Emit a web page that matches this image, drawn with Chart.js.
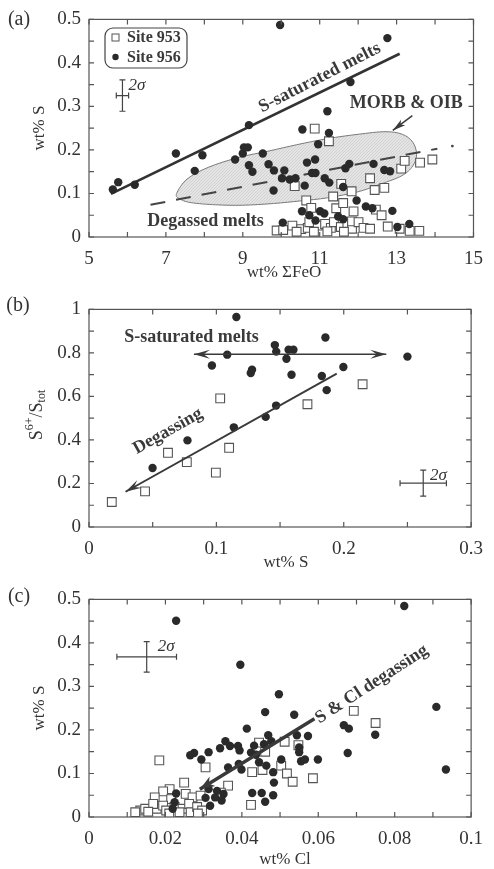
<!DOCTYPE html>
<html>
<head>
<meta charset="utf-8">
<script src="https://cdn.jsdelivr.net/npm/chart.js@4.4.0/dist/chart.umd.min.js"></script>
<style>
    html, body { margin: 0; padding: 0; background: #fff; }
    .panel { position: absolute; left: 0; width: 494px; }
</style>
</head>
<body>
<div class="panel" style="top:0;height:290px"><canvas id="chartA" width="494" height="290"></canvas></div>
<div class="panel" style="top:290px;height:290px"><canvas id="chartB" width="494" height="290"></canvas></div>
<div class="panel" style="top:580px;height:289px"><canvas id="chartC" width="494" height="289"></canvas></div>
<script>
// ---- data ----
// (a) wt% FeO vs wt% S
const feoSite956 = [
    [9.97, 0.487], [12.76, 0.457], [11.80, 0.356], [11.20, 0.289], [9.16, 0.257], [10.55, 0.247],
    [11.24, 0.239], [10.96, 0.213], [9.03, 0.206], [9.13, 0.206], [9.00, 0.192], [7.26, 0.192],
    [7.95, 0.188], [9.52, 0.192], [8.80, 0.178], [10.88, 0.178], [10.67, 0.171], [9.16, 0.165],
    [9.67, 0.167], [11.77, 0.168], [11.67, 0.158], [12.40, 0.168], [12.68, 0.154], [12.83, 0.151],
    [7.75, 0.152], [9.25, 0.150], [9.81, 0.153], [10.08, 0.153], [10.80, 0.147], [10.89, 0.147],
    [10.02, 0.135], [10.22, 0.132], [10.37, 0.135], [11.13, 0.135], [11.25, 0.125], [10.61, 0.118],
    [11.61, 0.115], [9.80, 0.107], [5.62, 0.109], [5.76, 0.126], [6.19, 0.120], [11.96, 0.084],
    [10.54, 0.059], [10.73, 0.050], [11.01, 0.059], [11.12, 0.054], [11.48, 0.047], [11.61, 0.041],
    [12.20, 0.070], [12.37, 0.066], [12.89, 0.060], [10.89, 0.038], [10.04, 0.033], [13.02, 0.023],
    [13.33, 0.030]
];
const feoSite953 = [
    [10.87, 0.249], [11.24, 0.220], [10.35, 0.117], [11.56, 0.122], [11.83, 0.105], [11.35, 0.093],
    [10.65, 0.084], [10.78, 0.067], [11.43, 0.066], [11.61, 0.078], [11.88, 0.059], [12.46, 0.063],
    [12.61, 0.050], [12.31, 0.135], [12.43, 0.108], [12.68, 0.113], [13.12, 0.157], [13.21, 0.175],
    [13.61, 0.171], [13.93, 0.178], [9.88, 0.015], [10.05, 0.016], [10.29, 0.026], [10.52, 0.018],
    [10.69, 0.021], [10.73, 0.034], [10.95, 0.026], [11.14, 0.030], [11.29, 0.021], [11.37, 0.034],
    [11.55, 0.023], [11.72, 0.030], [11.84, 0.019], [11.84, 0.036], [12.01, 0.034], [12.14, 0.021],
    [12.31, 0.019], [12.77, 0.024], [13.08, 0.019], [13.34, 0.014], [13.59, 0.014], [10.85, 0.012],
    [11.20, 0.013], [11.63, 0.012], [10.40, 0.012]
];
// MORB & OIB field outline
const morbOutline = [
    [7.28, 0.100], [7.55, 0.133], [8.10, 0.160], [8.90, 0.183], [9.70, 0.198], [10.40, 0.212],
    [11.20, 0.226], [12.00, 0.236], [12.70, 0.242], [13.15, 0.236], [13.42, 0.218], [13.52, 0.190],
    [13.42, 0.163], [13.12, 0.140], [12.50, 0.119], [12.00, 0.104], [11.20, 0.090], [10.50, 0.083],
    [9.80, 0.077], [9.00, 0.073], [8.30, 0.074], [7.65, 0.079], [7.35, 0.088]
];
const sSaturatedLine = [[5.57, 0.099], [13.08, 0.421]];
const degassedTrend = [[6.60, 0.074], [14.06, 0.203]];

// (b) wt% S vs S6+/Stot
const ratioSite956 = [
    [0.1157, 0.965], [0.1459, 0.836], [0.1470, 0.806], [0.1567, 0.815], [0.1605, 0.815], [0.1550, 0.773],
    [0.1085, 0.792], [0.0965, 0.742], [0.1280, 0.723], [0.1270, 0.708], [0.1590, 0.700], [0.1856, 0.871],
    [0.1828, 0.694], [0.1866, 0.629], [0.1997, 0.735], [0.2500, 0.783], [0.1469, 0.558], [0.1387, 0.506],
    [0.1137, 0.458], [0.0773, 0.398], [0.0499, 0.271]
];
const ratioSite953 = [
    [0.0179, 0.115], [0.0440, 0.164], [0.0620, 0.341], [0.0768, 0.298], [0.0996, 0.250],
    [0.1100, 0.364], [0.1030, 0.591], [0.1715, 0.564], [0.2148, 0.656]
];

// (c) wt% Cl vs wt% S
const clSite956 = [
    [0.0228, 0.451], [0.0825, 0.485], [0.0396, 0.350], [0.0497, 0.282], [0.0909, 0.253], [0.0934, 0.109],
    [0.0461, 0.241], [0.0537, 0.235], [0.0413, 0.203], [0.0667, 0.211], [0.0680, 0.203], [0.0749, 0.189],
    [0.0677, 0.147], [0.0544, 0.188], [0.0573, 0.186], [0.0469, 0.188], [0.0477, 0.174], [0.0458, 0.167],
    [0.0432, 0.164], [0.0390, 0.163], [0.0369, 0.163], [0.0357, 0.174], [0.0343, 0.158], [0.0313, 0.149],
    [0.0275, 0.147], [0.0265, 0.142], [0.0294, 0.132], [0.0394, 0.153], [0.0424, 0.148], [0.0437, 0.143],
    [0.0550, 0.160], [0.0550, 0.149], [0.0555, 0.128], [0.0565, 0.132], [0.0599, 0.132], [0.0503, 0.132],
    [0.0445, 0.126], [0.0464, 0.118], [0.0364, 0.114], [0.0392, 0.122], [0.0399, 0.109], [0.0482, 0.103],
    [0.0484, 0.079], [0.0427, 0.055], [0.0452, 0.055], [0.0482, 0.050], [0.0461, 0.035], [0.0313, 0.064],
    [0.0335, 0.060], [0.0352, 0.053], [0.0305, 0.044], [0.0317, 0.026], [0.0330, 0.045], [0.0347, 0.038],
    [0.0228, 0.054], [0.0224, 0.034], [0.0219, 0.019]
];
const clSite953 = [
    [0.0184, 0.130], [0.0305, 0.114], [0.0427, 0.103], [0.0454, 0.108], [0.0461, 0.150], [0.0445, 0.171],
    [0.0512, 0.173], [0.0548, 0.165], [0.0503, 0.118], [0.0518, 0.100], [0.0533, 0.081], [0.0586, 0.089],
    [0.0693, 0.244], [0.0750, 0.216], [0.0364, 0.072], [0.0345, 0.056], [0.0424, 0.028], [0.0249, 0.079],
    [0.0211, 0.064], [0.0194, 0.059], [0.0172, 0.045], [0.0253, 0.053], [0.0271, 0.045], [0.0292, 0.049],
    [0.0215, 0.041], [0.0134, 0.015], [0.0147, 0.019], [0.0177, 0.019], [0.0194, 0.026], [0.0202, 0.015],
    [0.0224, 0.023], [0.0245, 0.019], [0.0262, 0.030], [0.0266, 0.011], [0.0283, 0.023], [0.0296, 0.015],
    [0.0237, 0.011], [0.0121, 0.011], [0.0168, 0.030], [0.0155, 0.012], [0.0210, 0.008], [0.0285, 0.008]
];

// ---- styling ----
const serif = '"Liberation Serif", "Times New Roman", serif';
const ink = '#333';
const labelInk = '#3a3a3a';
const frameColor = '#555';
const PLOT_BOTTOM = 237;

const toPts = arr => arr.map(([x, y]) => ({ x, y }));

function tickLabel(v, major, origin) {
    const k = (v - origin) / major;
    if (Math.abs(k - Math.round(k)) > 1e-6) return '';
    return String(parseFloat(v.toFixed(4)));
}

function smoothClosed(ctx, pts) {
    const n = pts.length;
    ctx.moveTo(pts[0][0], pts[0][1]);
    for (let i = 0; i < n; i++) {
        const p0 = pts[(i - 1 + n) % n], p1 = pts[i], p2 = pts[(i + 1) % n], p3 = pts[(i + 2) % n];
        ctx.bezierCurveTo(
            p1[0] + (p2[0] - p0[0]) / 6, p1[1] + (p2[1] - p0[1]) / 6,
            p2[0] - (p3[0] - p1[0]) / 6, p2[1] - (p3[1] - p1[1]) / 6,
            p2[0], p2[1]);
    }
    ctx.closePath();
}

// soft stippled grey for the MORB field
function stipple(ctx) {
    const c = document.createElement('canvas');
    c.width = 3; c.height = 3;
    const g = c.getContext('2d');
    g.fillStyle = '#e4e4e4';
    g.fillRect(0, 0, 3, 3);
    g.fillStyle = '#d2d2d2';
    g.fillRect(0, 0, 1, 1);
    g.fillRect(2, 1, 1, 1);
    g.fillRect(1, 2, 1, 1);
    return ctx.createPattern(c, 'repeat');
}

function drawHead(ctx, tip, from, len, half, notch) {
    const a = Math.atan2(tip[1] - from[1], tip[0] - from[0]);
    ctx.save();
    ctx.translate(tip[0], tip[1]);
    ctx.rotate(a);
    ctx.beginPath();
    ctx.moveTo(0, 0);
    ctx.lineTo(-len, -half);
    ctx.lineTo(-len * notch, 0);
    ctx.lineTo(-len, half);
    ctx.closePath();
    ctx.fill();
    ctx.restore();
}

const decoPlugin = {
    id: 'deco',
    beforeDatasetsDraw(chart, args, o) {
        if (!o.region) return;
        const ctx = chart.ctx, xs = chart.scales.x, ys = chart.scales.y;
        const pts = o.region.map(([x, y]) => [xs.getPixelForValue(x), ys.getPixelForValue(y)]);
        ctx.save();
        ctx.beginPath();
        smoothClosed(ctx, pts);
        ctx.fillStyle = stipple(ctx);
        ctx.fill();
        ctx.strokeStyle = '#7a7a7a';
        ctx.lineWidth = 1;
        ctx.stroke();
        ctx.restore();
    },
    afterDraw(chart, args, o) {
        const ctx = chart.ctx, ca = chart.chartArea, xs = chart.scales.x, ys = chart.scales.y;
        const X = v => xs.getPixelForValue(v), Y = v => ys.getPixelForValue(v);
        const P = ([x, y]) => [X(x), Y(y)];
        ctx.save();

        // frame with inward ticks on all four sides
        ctx.strokeStyle = frameColor;
        ctx.lineWidth = 1.2;
        ctx.strokeRect(ca.left, ca.top, ca.right - ca.left, ca.bottom - ca.top);
        ctx.beginPath();
        xs.ticks.forEach(t => {
            const p = X(t.value);
            ctx.moveTo(p, ca.bottom); ctx.lineTo(p, ca.bottom - 5);
            ctx.moveTo(p, ca.top); ctx.lineTo(p, ca.top + 5);
        });
        ys.ticks.forEach(t => {
            const p = Y(t.value);
            ctx.moveTo(ca.left, p); ctx.lineTo(ca.left + 5, p);
            ctx.moveTo(ca.right, p); ctx.lineTo(ca.right - 5, p);
        });
        ctx.stroke();

        // panel letter and axis titles
        ctx.fillStyle = ink;
        ctx.textAlign = 'center';
        ctx.textBaseline = 'middle';
        ctx.font = '20px ' + serif;
        ctx.fillText(o.letter[0], o.letter[1], o.letter[2]);
        ctx.font = '17px ' + serif;
        ctx.fillText(o.xTitle[0], o.xTitle[1], o.xTitle[2]);
        ctx.save();
        ctx.translate(o.yTitle[1], o.yTitle[2]);
        ctx.rotate(-Math.PI / 2);
        if (Array.isArray(o.yTitle[0])) {
            // rich title: [text, size, baseline shift]
            let w = 0;
            o.yTitle[0].forEach(([t, s]) => { ctx.font = s + 'px ' + serif; w += ctx.measureText(t).width; });
            let cx = -w / 2;
            ctx.textAlign = 'left';
            o.yTitle[0].forEach(([t, s, dy]) => {
                ctx.font = s + 'px ' + serif;
                ctx.fillText(t, cx, dy);
                cx += ctx.measureText(t).width;
            });
        } else {
            ctx.fillText(o.yTitle[0], 0, 0);
        }
        ctx.restore();

        // 2 sigma error bar
        if (o.sigma) {
            const s = o.sigma;
            const cx = X(s.x), cy = Y(s.y);
            const x0 = X(s.x - s.dx), x1 = X(s.x + s.dx), y0 = Y(s.y - s.dy), y1 = Y(s.y + s.dy);
            ctx.strokeStyle = '#444';
            ctx.lineWidth = 1.2;
            ctx.beginPath();
            ctx.moveTo(x0, cy); ctx.lineTo(x1, cy);
            ctx.moveTo(x0, cy - 3); ctx.lineTo(x0, cy + 3);
            ctx.moveTo(x1, cy - 3); ctx.lineTo(x1, cy + 3);
            ctx.moveTo(cx, y0); ctx.lineTo(cx, y1);
            ctx.moveTo(cx - 3, y0); ctx.lineTo(cx + 3, y0);
            ctx.moveTo(cx - 3, y1); ctx.lineTo(cx + 3, y1);
            ctx.stroke();
            ctx.fillStyle = ink;
            ctx.font = 'italic 17px ' + serif;
            ctx.textAlign = 'center';
            ctx.fillText('2\u03c3', X(s.lx), Y(s.ly));
        }

        // arrows
        (o.arrows || []).forEach(a => {
            const f = P(a.from), t = P(a.to);
            ctx.strokeStyle = '#3a3a3a';
            ctx.fillStyle = '#3a3a3a';
            ctx.lineWidth = a.width;
            ctx.beginPath();
            ctx.moveTo(f[0], f[1]);
            ctx.lineTo(t[0], t[1]);
            ctx.stroke();
            drawHead(ctx, t, f, a.len, a.half, a.notch);
            if (a.both) drawHead(ctx, f, t, a.len, a.half, a.notch);
        });

        // in-plot labels
        (o.texts || []).forEach(t => {
            ctx.save();
            ctx.translate(X(t.x), Y(t.y));
            ctx.rotate((t.angle || 0) * Math.PI / 180);
            ctx.fillStyle = labelInk;
            ctx.font = 'bold ' + (t.size || 18) + 'px ' + serif;
            ctx.textAlign = 'center';
            ctx.textBaseline = 'middle';
            ctx.fillText(t.text, 0, 0);
            ctx.restore();
        });

        // dots
        (o.dots || []).forEach(d => {
            ctx.fillStyle = '#444';
            ctx.beginPath();
            ctx.arc(X(d[0]), Y(d[1]), 1.4, 0, Math.PI * 2);
            ctx.fill();
        });

        // legend box
        if (o.legend) {
            const [l, t, r, b] = o.legend.box;
            ctx.strokeStyle = '#444';
            ctx.lineWidth = 1.2;
            ctx.beginPath();
            ctx.roundRect(l, t, r - l, b - t, 8);
            ctx.stroke();
            o.legend.items.forEach(it => {
                if (it.style === 'rect') {
                    ctx.strokeStyle = '#555';
                    ctx.lineWidth = 1;
                    ctx.strokeRect(l + 7, it.y - 3.5, 7, 7);
                } else {
                    ctx.fillStyle = '#2a2a2a';
                    ctx.beginPath();
                    ctx.arc(l + 10.5, it.y, 3.2, 0, Math.PI * 2);
                    ctx.fill();
                }
                ctx.fillStyle = labelInk;
                ctx.font = 'bold 16px ' + serif;
                ctx.textAlign = 'left';
                ctx.textBaseline = 'middle';
                ctx.fillText(it.label, l + 22, it.y + 0.5);
            });
        }
        ctx.restore();
    }
};

function circles(arr) {
    return {
        label: 'Site 956', data: toPts(arr), pointStyle: 'circle', pointRadius: 4.2,
        pointBackgroundColor: '#2a2a2a', pointBorderColor: '#2a2a2a', pointBorderWidth: 0, order: 2
    };
}
function squares(arr) {
    return {
        label: 'Site 953', data: toPts(arr), pointStyle: 'rect', pointRadius: 6.2,
        pointBackgroundColor: '#fff', pointBorderColor: '#555', pointBorderWidth: 1.1, order: 3
    };
}
function straight(arr, extra) {
    return Object.assign({
        type: 'line', data: toPts(arr), borderColor: '#333', borderWidth: 2.5,
        pointRadius: 0, fill: false, order: 4
    }, extra);
}

function buildChart(id, cfg) {
    const tickFont = { family: serif, size: 19 };
    return new Chart(document.getElementById(id), {
        type: 'scatter',
        data: { datasets: cfg.datasets },
        options: {
            responsive: false,
            animation: false,
            events: [],
            layout: { padding: { top: cfg.top, right: 14, left: 0, bottom: 0 } },
            plugins: { legend: { display: false }, tooltip: { enabled: false }, deco: cfg.deco },
            scales: {
                x: {
                    type: 'linear', min: cfg.x[0], max: cfg.x[1],
                    afterFit: s => { s.height = s.chart.height - PLOT_BOTTOM; },
                    grid: { display: false, drawTicks: false }, border: { display: false },
                    ticks: {
                        stepSize: cfg.x[2], autoSkip: false, maxRotation: 0, padding: 11,
                        font: tickFont, color: ink,
                        callback: v => tickLabel(v, cfg.x[3], cfg.x[0])
                    }
                },
                y: {
                    type: 'linear', min: cfg.y[0], max: cfg.y[1],
                    afterFit: s => { s.width = 89; },
                    grid: { display: false, drawTicks: false }, border: { display: false },
                    ticks: {
                        stepSize: cfg.y[2], autoSkip: false, padding: 8,
                        font: tickFont, color: ink,
                        callback: v => tickLabel(v, cfg.y[3], cfg.y[0])
                    }
                }
            }
        },
        plugins: [decoPlugin]
    });
}

// (a)
buildChart('chartA', {
    top: 15,
    x: [5, 15, 1, 2],
    y: [0, 0.5, 0.05, 0.1],
    datasets: [
        circles(feoSite956),
        squares(feoSite953),
        straight(sSaturatedLine, { borderWidth: 2.6 }),
        straight(degassedTrend, { borderWidth: 2, borderDash: [15, 11], borderColor: '#444' })
    ],
    deco: {
        letter: ['(a)', 19, 20],
        xTitle: ['wt% \u03a3FeO', 284, 273],
        yTitle: ['wt% S', 40, 128],
        region: morbOutline,
        sigma: { x: 5.87, y: 0.325, dx: 0.16, dy: 0.036, lx: 6.25, ly: 0.348 },
        arrows: [{ from: [13.41, 0.279], to: [12.90, 0.245], width: 1.5, len: 13, half: 3.5, notch: 0.75 }],
        dots: [[14.45, 0.209]],
        texts: [
            { text: 'S-saturated melts', x: 11.0, y: 0.366, angle: -27 },
            { text: 'MORB & OIB', x: 13.25, y: 0.307 },
            { text: 'Degassed melts', x: 8.03, y: 0.036 }
        ],
        legend: {
            box: [105, 28, 187, 68],
            items: [{ style: 'rect', label: 'Site 953', y: 37.5 }, { style: 'circle', label: 'Site 956', y: 57 }]
        }
    }
});

// (b)
buildChart('chartB', {
    top: 17,
    x: [0, 0.3, 0.05, 0.1],
    y: [0, 1, 0.1, 0.2],
    datasets: [circles(ratioSite956), squares(ratioSite953)],
    deco: {
        letter: ['(b)', 18, 16],
        xTitle: ['wt% S', 286, 273],
        yTitle: [[['S', 18, 0], ['6+', 12, -7], ['/S', 18, 0], ['tot', 12, 5]], 37, 125],
        sigma: { x: 0.2624, y: 0.2015, dx: 0.0182, dy: 0.06, lx: 0.2744, ly: 0.238 },
        arrows: [
            { from: [0.0824, 0.794], to: [0.2334, 0.794], width: 1.5, len: 16, half: 4.5, notch: 0.6, both: true },
            { from: [0.1945, 0.705], to: [0.0287, 0.162], width: 2, len: 16, half: 4.5, notch: 0.6 }
        ],
        texts: [
            { text: 'S-saturated melts', x: 0.0804, y: 0.871 },
            { text: 'Degassing', x: 0.0619, y: 0.440, angle: -29.5 }
        ]
    }
});

// (c)
buildChart('chartC', {
    top: 15,
    x: [0, 0.1, 0.01, 0.02],
    y: [0, 0.5, 0.05, 0.1],
    datasets: [circles(clSite956), squares(clSite953)],
    deco: {
        letter: ['(c)', 19, 17],
        xTitle: ['wt% Cl', 285, 280],
        yTitle: ['wt% S', 40, 128],
        sigma: { x: 0.0151, y: 0.368, dx: 0.0078, dy: 0.035, lx: 0.0202, ly: 0.391 },
        arrows: [{ from: [0.059, 0.226], to: [0.029, 0.064], width: 3.5, len: 15, half: 5.5, notch: 0.7 }],
        texts: [{ text: 'S & Cl degassing', x: 0.074, y: 0.305, angle: -33 }]
    }
});
</script>
</body>
</html>
